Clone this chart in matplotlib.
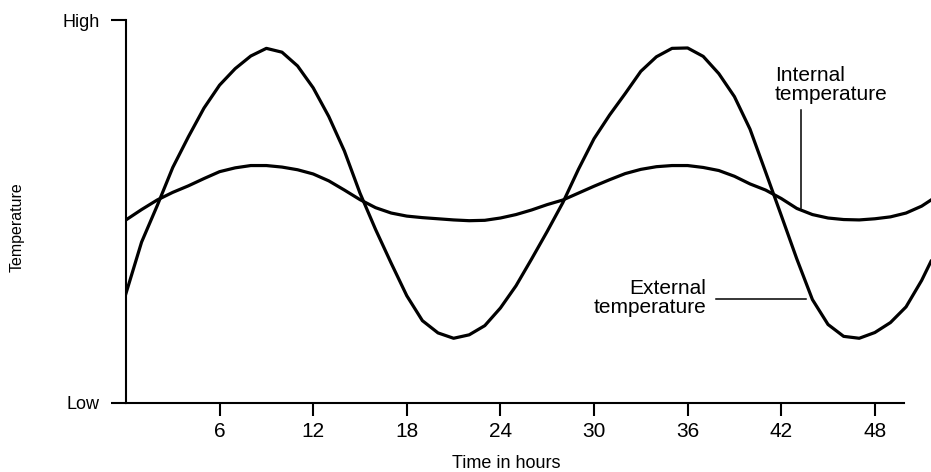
import numpy as np
import matplotlib.pyplot as plt

plt.rcParams['font.family'] = ['Liberation Sans', 'DejaVu Sans']

# datos (horas, temperatura relativa 0=Low 100=High)
ext_t = [0, 1, 2, 3, 4, 5, 6, 7, 8, 9, 10, 11, 12, 13, 14, 15, 16, 17, 18, 19, 20,
         21, 22, 23, 24, 25, 26, 27, 28, 29, 30, 31, 32, 33, 34, 35, 36, 37, 38,
         39, 40, 41, 42, 43, 44, 45, 46, 47, 48, 49, 50, 51, 51.6]
ext_temp = [28.6, 42.0, 51.5, 61.5, 69.5, 77.0, 83.0, 87.3, 90.6, 92.6, 91.6, 88.0,
            82.3, 74.8, 65.8, 54.8, 45.3, 36.5, 28.0, 21.5, 18.3, 16.9, 17.8, 20.2,
            24.8, 30.6, 37.6, 44.8, 52.3, 61.0, 69.0, 75.2, 80.8, 86.6, 90.4, 92.6,
            92.7, 90.5, 86.0, 80.0, 71.5, 60.3, 49.0, 37.6, 27.0, 20.5, 17.4, 16.9,
            18.4, 21.0, 25.1, 32.0, 37.0]

int_t = ext_t
int_temp = [47.8, 50.5, 53.0, 55.0, 56.7, 58.6, 60.4, 61.4, 62.0, 62.0, 61.6, 60.9,
            59.8, 58.0, 55.6, 53.1, 51.0, 49.6, 48.8, 48.4, 48.1, 47.8, 47.6, 47.7,
            48.3, 49.2, 50.4, 51.8, 53.0, 54.8, 56.6, 58.3, 59.9, 61.0, 61.7, 62.0,
            62.0, 61.5, 60.7, 59.2, 57.2, 55.6, 53.4, 50.8, 49.2, 48.3, 47.9, 47.8,
            48.1, 48.6, 49.6, 51.4, 53.0]

horas = [6, 12, 18, 24, 30, 36, 42, 48]

fig = plt.figure(figsize=(9.31, 4.72), dpi=100)
ax = fig.add_axes([0.1353, 0.1462, 0.8647, 0.8114])

ax.plot(ext_t, ext_temp, color="black", lw=2.3, solid_joinstyle="round")
ax.plot(int_t, int_temp, color="black", lw=2.3, solid_joinstyle="round")

ax.set_xlim(0, 51.6)
ax.set_ylim(0, 100)

ax.spines["top"].set_visible(False)
ax.spines["right"].set_visible(False)
ax.spines["left"].set_linewidth(1.5)
ax.spines["bottom"].set_linewidth(1.5)
ax.spines["bottom"].set_bounds(0, 49.9)

ax.set_xticks(horas)
ax.set_xticklabels([str(h) for h in horas])
ax.set_yticks([0, 100])
ax.set_yticklabels(["Low", "High"])
ax.tick_params(axis="x", direction="out", length=9, width=1.5, pad=5, labelsize=15)
ax.tick_params(axis="y", direction="out", length=11, width=1.5, pad=8, labelsize=13)

ax.set_xlabel("Time in hours", fontsize=13)
ax.xaxis.set_label_coords(0.473, -0.135)
ax.set_ylabel("Temperature", fontsize=11.5)
ax.yaxis.set_label_coords(-0.126, 0.46)

# etiquetas de las curvas
ax.text(41.6, 83.0, "Internal\ntemperature", fontsize=15, ha="left", va="center",
        linespacing=1.05)
ax.plot([43.27, 43.27], [76.5, 50.9], color="black", lw=1.1)
ax.text(37.2, 27.4, "External\ntemperature", fontsize=15, ha="right", va="center",
        multialignment="right", linespacing=1.05)
ax.plot([37.85, 43.6], [27.2, 27.2], color="black", lw=1.1)

plt.savefig("out.png", dpi=100)
